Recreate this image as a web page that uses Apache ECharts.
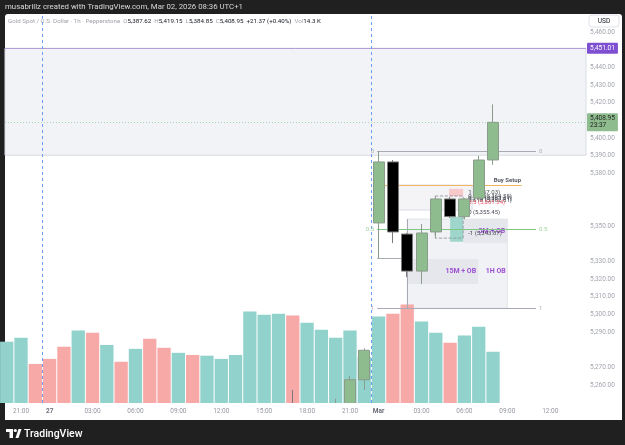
<!DOCTYPE html>
<html>
<head>
<meta charset="utf-8">
<title>XAUUSD 1h</title>
<script src="https://cdn.jsdelivr.net/npm/echarts@6.0.0/dist/echarts.min.js"></script>
<style>
  html, body { margin: 0; padding: 0; background: #202020; }
  #chart { width: 625px; height: 445px; }
</style>
</head>
<body>
<div id="chart"></div>
<script>
// hourly slots (UTC+1), Thu 26 Feb 20:00 -> Mon 02 Mar 14:00, weekend removed
const times = ['20:00', '21:00', '22:00', '27', '01:00', '02:00', '03:00', '04:00', '05:00', '06:00',
  '07:00', '08:00', '09:00', '10:00', '11:00', '12:00', '13:00', '14:00', '15:00', '16:00',
  '17:00', '18:00', '19:00', '20:00', '21:00', '22:00', 'Mar', '01:00', '02:00', '03:00',
  '04:00', '05:00', '06:00', '07:00', '08:00', '09:00', '10:00', '11:00', '12:00', '13:00', '14:00'];
const timeTicks = [1, 3, 6, 9, 12, 15, 18, 21, 24, 26, 29, 32, 35, 38];
const priceTicks = [5260, 5270, 5290, 5300, 5310, 5320, 5330, 5350, 5380, 5390, 5400, 5420, 5430, 5440, 5460];

// [open, close, low, high]
const candles = [
  [5180, 5187, 5175, 5192], [5187, 5196, 5183, 5201], [5196, 5190, 5186, 5199], [5190, 5182, 5177, 5194],
  [5182, 5170, 5164, 5187], [5170, 5180, 5165, 5188], [5180, 5168, 5163, 5186], [5168, 5177, 5162, 5183],
  [5177, 5171, 5166, 5181], [5171, 5179, 5166, 5184], [5179, 5170, 5165, 5185], [5170, 5161, 5156, 5176],
  [5161, 5168, 5157, 5175], [5168, 5160, 5155, 5174], [5160, 5166, 5154, 5172], [5166, 5172, 5160, 5179],
  [5172, 5180, 5165, 5188], [5180, 5196, 5170, 5204], [5196, 5214, 5188, 5222], [5214, 5232, 5206, 5240],
  [5232, 5198, 5192, 5257.2], [5198, 5212, 5190, 5219], [5212, 5228, 5205, 5236], [5228, 5246, 5224, 5252.2],
  [5246, 5263.0, 5241, 5265.1], [5263.0, 5279.7, 5257.2, 5280.8],
  [5351.9, 5386.5, 5332.0, 5392.7], [5386.5, 5346.8, 5340.5, 5387.6], [5345.6, 5324.6, 5321.2, 5346.2],
  [5324.6, 5346.2, 5317.3, 5351.3], [5346.8, 5365.5, 5343.9, 5366.6], [5365.5, 5355.5, 5354.7, 5366.6],
  [5355.5, 5365.5, 5354.0, 5366.0], [5366.0, 5387.58, 5365.0, 5390.0], [5387.62, 5408.95, 5384.85, 5419.15]
];

// volume in thousands
const volume = [17.1, 18.2, 10.9, 12.3, 15.7, 20.2, 19.6, 16.2, 11.5, 15.1, 17.9, 15.4, 14.0, 13.4, 13.2,
  12.3, 13.4, 25.5, 24.6, 24.9, 24.4, 22.4, 20.4, 18.2, 20.2, 12.9,
  24.1, 24.9, 27.5, 22.7, 19.6, 16.8, 18.8, 21.3, 14.3];

const rangeHigh = 5451.01;   // H4 RH
const rangeLow = 5390.3;
const entryLevel = 5371.26;
const midLevel = 5361.26;
const obLevel = 5341.26;
const buySetup = 5373.4;

const fibLevels = [0, 0.5, 1];
const fibHigh = 5392.7, fibLow = 5303.5;
const fibFrom = 25.9, fibTo = 37;

// small fib on the 05:00 pullback
const miniFib = [[1, 5367.03], [0.786, 5364.55], [0.705, 5363.61], [0.618, 5362.61], [0.5, 5361.24], [0, 5355.45], [-1, 5343.87]];

// drawn boxes: [fromSlot, toSlot, top, bottom]
const setupBox = [26.94, 32.54, 5373.4, 5359.2];
const h1Box = [28, 35, 5354.1, 5303.5];
const m15Box = [28, 32.96, 5331.5, 5317.3];
const m5Box = [31.91, 35, 5354.1, 5340.5];
const fvgBox = [31, 31.91, 5355.45, 5341.26];
const sellBox = [30.93, 31.91, 5371.26, 5367.03];
const frameBox = [29.95, 31.91, 5367.2, 5343.3];

const font = 'Roboto, sans-serif';
const fmt = v => v.toLocaleString('en-US', { minimumFractionDigits: 2, maximumFractionDigits: 2 });
const xMin = -0.12, xMax = 40.5;
const yMin = 5249.8, yMax = 5470.4;

const last = candles[candles.length - 1];
const prevClose = candles[candles.length - 2][1];
const change = last[1] - prevClose;
const lastVol = volume[volume.length - 1];

const chart = echarts.init(document.getElementById('chart'));

const badge = (bg, text, fg) => ({
  show: true, position: 'end', distance: 1, formatter: text,
  backgroundColor: bg, color: fg || '#fff', padding: [2, 3], borderRadius: 1,
  fontSize: 6.5, fontFamily: font, lineHeight: 7
});
const hidden = { opacity: 0 };
const gray = { color: '#a8abb3', width: 1, type: 'solid' };

const lines = [
  { yAxis: rangeHigh, lineStyle: { color: '#b39ddb', width: 1, type: 'solid' }, label: badge('#7e4fd1', fmt(rangeHigh)) },
  { yAxis: rangeHigh, lineStyle: hidden, label: { show: true, position: 'insideEndTop', distance: 2, formatter: 'H4 RH', color: '#131722', fontWeight: 'bold', fontSize: 6.5, fontFamily: font } },
  { yAxis: last[1], lineStyle: { color: '#a5d6a7', width: 1, type: [1, 2] }, label: badge('#8fbc8f', fmt(last[1]) + '\n23:37', '#1b1f1b') },
  { yAxis: last[1], lineStyle: hidden, label: { show: true, position: 'insideEnd', distance: 1, formatter: 'XAUUSD', backgroundColor: '#8fbc8f', color: '#1b1f1b', padding: [2, 3], fontSize: 6.2, fontFamily: font } },
  { yAxis: entryLevel, lineStyle: hidden, label: badge('#f23645', fmt(entryLevel)) },
  { yAxis: midLevel, lineStyle: hidden, label: badge('#787b86', fmt(midLevel)) },
  { yAxis: obLevel, lineStyle: hidden, label: badge('#22ab94', fmt(obLevel)) },
  { xAxis: 2.5, lineStyle: { color: '#6c9ef8', width: 1, type: [3, 3] }, label: { show: false } },
  { xAxis: 25.5, lineStyle: { color: '#6c9ef8', width: 1, type: [3, 3] }, label: { show: false } }
];
fibLevels.forEach(l => {
  const p = fibHigh + l * (fibLow - fibHigh);
  lines.push([{ coord: [fibFrom, p], lineStyle: l === 0.5 ? { color: '#81c784', width: 1, type: 'solid' } : gray, label: { show: false } }, { coord: [fibTo, p] }]);
});
lines.push([{ coord: [26, buySetup], lineStyle: { color: '#f3b562', width: 1, type: 'solid' }, label: { show: false } }, { coord: [36, buySetup] }]);
lines.push([{ coord: [fibFrom, candles[26][2]], lineStyle: gray, label: { show: false } }, { coord: [27.75, candles[26][2]] }]);
lines.push([{ coord: [h1Box[0], h1Box[2]], lineStyle: gray, label: { show: false } }, { coord: [h1Box[0], h1Box[3]] }]);

const zoneLabel = (text, offset) => ({
  show: true, position: 'insideRight', distance: 2, offset: offset || [0, 0], formatter: text,
  color: '#9c4fd0', fontWeight: 'bold', fontSize: 7, fontFamily: font
});
const box = (b, style, label) => [{ coord: [b[0], b[2]], itemStyle: style, label: label || { show: false } }, { coord: [b[1], b[3]] }];
const areas = [
  [{ yAxis: rangeHigh, itemStyle: { color: '#f2f3f6', borderColor: '#d9dce3', borderWidth: 1 }, label: { show: false } }, { yAxis: rangeLow }],
  box(setupBox, { color: '#f4f4f7', borderColor: '#d5d7de', borderWidth: 0.8 }),
  box(h1Box, { color: '#f1f2f5', borderColor: '#dcdee4', borderWidth: 0.8 }, zoneLabel('1H OB', [0, 8])),
  box(m15Box, { color: '#e6e7ec' }, zoneLabel('15M + OB')),
  box(m5Box, { color: '#e6e7ec' }, zoneLabel('5M + OB')),
  box(fvgBox, { color: '#9ed6cc' }),
  box(sellBox, { color: '#f8c9cb' }),
  box(frameBox, { color: 'rgba(0,0,0,0)', borderColor: '#8a8d96', borderWidth: 0.8, borderType: 'dashed' })
];

const notes = [
  { name: 'Buy Setup', value: [35, buySetup], label: { position: 'top', distance: 2, fontWeight: 'bold', color: '#2a2e39' } }
];
miniFib.forEach(([l, p]) => notes.push({
  name: l + ' (' + fmt(p) + ')', value: [32.26, p],
  label: { position: 'right', distance: 0, offset: [0, -4], color: l === 0.5 ? '#f23645' : '#131722' }
}));
fibLevels.forEach(l => {
  const p = fibHigh + l * (fibLow - fibHigh);
  const c = l === 0.5 ? '#81c784' : '#9598a1';
  notes.push({ name: String(l), value: [fibFrom, p], label: { position: 'left', distance: 3, color: c } });
  notes.push({ name: String(l), value: [fibTo, p], label: { position: 'right', distance: 3, color: c } });
});

const gridBox = { left: 5, right: 39, top: 14, bottom: 42 };

chart.setOption({
  backgroundColor: '#202020',
  animation: false,
  textStyle: { fontFamily: font },
  grid: [Object.assign({}, gridBox), Object.assign({}, gridBox)],
  xAxis: [{
    type: 'value', gridIndex: 0, min: xMin, max: xMax, z: 60,
    axisLine: { show: false }, axisTick: { show: false }, splitLine: { show: false },
    axisLabel: {
      customValues: timeTicks, margin: 5, fontSize: 6.5, color: '#9598a1',
      formatter: v => { const t = times[Math.round(v)]; return t.indexOf(':') > 0 ? t : '{d|' + t + '}'; },
      rich: { d: { color: '#6a6d78', fontWeight: 'bold', fontSize: 6.5 } }
    }
  }, {
    type: 'value', gridIndex: 1, min: xMin, max: xMax, show: false
  }],
  yAxis: [{
    type: 'value', gridIndex: 0, position: 'right', min: yMin, max: yMax,
    axisLine: { show: false }, axisTick: { show: false }, splitLine: { show: false },
    axisLabel: { customValues: priceTicks, margin: 4, fontSize: 6.5, color: '#a3a6af', formatter: v => fmt(v) }
  }, {
    type: 'value', gridIndex: 1, min: 0, max: 108.5, show: false
  }],
  graphic: [
    { type: 'rect', z: -10, shape: { x: 5, y: 14, width: 617, height: 406, r: 3 }, style: { fill: '#ffffff' } },
    // time-axis strip and footer sit above the plot so partial candles stop at the pane edge
    { type: 'rect', z: 50, shape: { x: 5, y: 403, width: 617, height: 17 }, style: { fill: '#ffffff' } },
    { type: 'rect', z: 50, shape: { x: 0, y: 420, width: 625, height: 25 }, style: { fill: '#202020' } },
    { type: 'text', x: 5, y: 7, style: { text: 'musabrillz created with TradingView.com, Mar 02, 2026 08:36 UTC+1', fill: '#d9d9d9', font: '7.8px Roboto', verticalAlign: 'middle' } },
    {
      type: 'text', x: 8, y: 21, z: 20,
      style: {
        text: '{g|Gold Spot / U.S. Dollar · 1h · Pepperstone}  {g|O}{v|' + fmt(last[0]) + '}  {g|H}{v|' + fmt(last[3]) +
          '}  {g|L}{v|' + fmt(last[2]) + '}  {g|C}{v|' + fmt(last[1]) + '}  {v|+' + fmt(change) + ' (+' +
          (change / prevClose * 100).toFixed(2) + '%)}  {g|Vol}{v|' + lastVol + ' K}',
        verticalAlign: 'middle', font: '6.2px Roboto',
        rich: {
          g: { fill: '#a0a3ac', fontSize: 6.2, fontFamily: font },
          v: { fill: '#131722', fontSize: 6.2, fontFamily: font }
        }
      }
    },
    { type: 'rect', z: 20, shape: { x: 589, y: 15, width: 30, height: 12, r: 3 }, style: { fill: '#fff', stroke: '#e0e3eb', lineWidth: 1 } },
    { type: 'text', z: 21, x: 604, y: 21, style: { text: 'USD', fill: '#131722', font: '6.5px Roboto', align: 'center', verticalAlign: 'middle' } },
    { type: 'rect', z: 51, shape: { x: 6, y: 429, width: 7, height: 3 }, style: { fill: '#fff' } },
    { type: 'rect', z: 51, shape: { x: 9.5, y: 429, width: 3.5, height: 9 }, style: { fill: '#fff' } },
    { type: 'circle', z: 51, shape: { cx: 15.3, cy: 430.5, r: 1.6 }, style: { fill: '#fff' } },
    { type: 'polygon', z: 51, shape: { points: [[15.5, 438], [18.5, 429], [21.5, 429], [18.5, 438]] }, style: { fill: '#fff' } },
    { type: 'text', z: 51, x: 24, y: 434, style: { text: 'TradingView', fill: '#ffffff', font: '500 10.5px Roboto', verticalAlign: 'middle' } }
  ],
  series: [
    {
      name: 'zones', type: 'line', data: [], xAxisIndex: 0, yAxisIndex: 0, silent: true,
      markArea: { silent: true, z: 1, data: areas }
    },
    {
      name: 'Volume', type: 'bar', xAxisIndex: 1, yAxisIndex: 1, z: 2, barWidth: 13.3,
      data: volume.map((v, i) => [i, v]),
      itemStyle: { color: p => candles[p.dataIndex][1] >= candles[p.dataIndex][0] ? '#92d2cc' : '#f7a9a8' }
    },
    {
      name: 'volLabel', type: 'line', data: [], xAxisIndex: 1, yAxisIndex: 1,
      markLine: { silent: true, symbol: ['none', 'none'], data: [{ yAxis: lastVol, lineStyle: hidden, label: badge('#22ab94', lastVol + 'K') }] }
    },
    {
      name: 'levels', type: 'line', data: [], xAxisIndex: 0, yAxisIndex: 0,
      markLine: { silent: true, z: 3, symbol: ['none', 'none'], lineStyle: { type: 'solid', width: 1 }, data: lines }
    },
    {
      name: 'notes', type: 'scatter', xAxisIndex: 0, yAxisIndex: 0, z: 4, clip: false, symbolSize: 0, silent: true,
      label: { show: true, formatter: p => p.name, fontSize: 6, fontFamily: font },
      data: notes
    },
    {
      name: 'XAUUSD', type: 'candlestick', xAxisIndex: 0, yAxisIndex: 0, z: 10, barWidth: 11.5,
      data: candles.map((c, i) => [i, c[0], c[1], c[2], c[3]]),
      itemStyle: { color: '#8fbc8f', color0: '#000000', borderColor: '#8a9c8a', borderColor0: '#7a7a7a', borderWidth: 1 }
    }
  ]
});
</script>
</body>
</html>
